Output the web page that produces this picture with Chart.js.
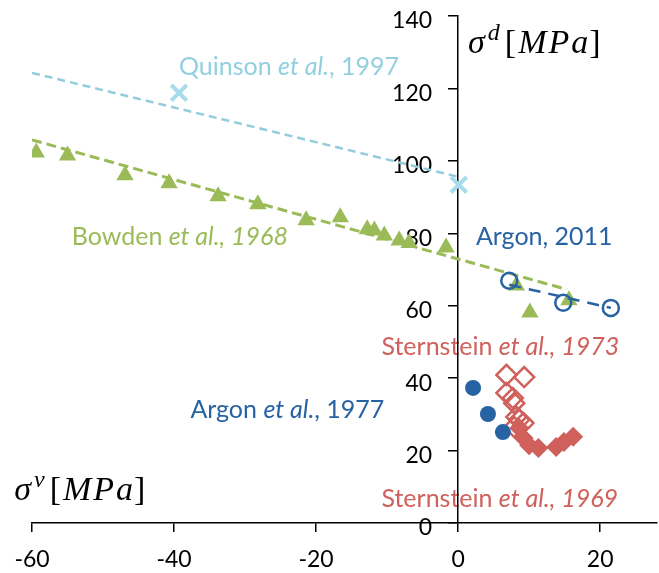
<!DOCTYPE html>
<html>
<head>
<meta charset="utf-8">
<script src="https://cdn.jsdelivr.net/npm/chart.js@4/dist/chart.umd.min.js"></script>
<style>
  html, body { margin:0; padding:0; background:#fff; overflow:hidden; }
  #wrap { position:relative; width:659px; height:573px; }
  #chart { display:block; }
</style>
</head>
<body>
<div id="wrap"><canvas id="chart"></canvas></div>
<script>
// ---- DATA ----
const xTicks = [-60, -40, -20, 0, 20];
const yTicks = [0, 20, 40, 60, 80, 100, 120, 140];

// Bowden et al., 1968 (triangles) + trend line
const bowdenX = [-59.4, -55.0, -46.9, -40.7, -33.8, -28.2, -21.4, -16.6, -12.8, -11.8, -10.4, -8.3, -6.9, -1.7, 8.2, 10.1, 15.6];
const bowdenY = [102.3, 101.5, 96.0, 93.8, 90.2, 88.0, 83.6, 84.4, 81.1, 80.8, 79.4, 78.0, 77.3, 76.1, 65.6, 58.1, 61.5];
const bowdenTrendX = [-60, 15.3];
const bowdenTrendY = [105.8, 64.5];

// Quinson et al., 1997 (crosses) + trend line
const quinsonX = [-39.3, 0.1];
const quinsonY = [118.8, 93.4];
const quinsonTrendX = [-60, 0];
const quinsonTrendY = [124.3, 95.6];

// Argon, 2011 (open circles) + trend line
const argon2011X = [7.2, 14.8, 21.5];
const argon2011Y = [66.9, 60.8, 59.4];
const argon2011TrendX = [7.2, 21.5];
const argon2011TrendY = [65.8, 59.4];

// Argon et al., 1977 (filled circles)
const argon1977X = [2.1, 4.2, 6.3];
const argon1977Y = [37.3, 30.1, 25.1];

// Sternstein et al., 1973 (open diamonds)
const stern1973X = [6.8, 9.3, 6.8, 7.7, 7.9, 8.2, 8.6, 9.2, 7.9];
const stern1973Y = [40.9, 40.3, 35.9, 34.5, 33.1, 29.3, 28.5, 27.6, 26.5];

// Sternstein et al., 1969 (filled diamonds)
const stern1969X = [8.6, 9.2, 10.0, 11.3, 13.8, 14.9, 16.2];
const stern1969Y = [26.2, 23.5, 21.5, 20.7, 21.0, 22.4, 23.8];

// ---- COLORS ----
const GREEN = '#9BBB59';
const LIGHTBLUE = '#93CDDD';
const DARKBLUE = '#2762A3';
const RED = '#D0605B';

const pts = (xs, ys) => xs.map((x, i) => ({x: x, y: ys[i]}));

// ---- TEXT ----
const SANS = 'Lato, "Open Sans", sans-serif';
const SERIF = '"Liberation Serif", "DejaVu Serif", serif';

const notes = [
  {x:-39.3, y:123.8, color:'#92CFE0', parts:[['Quinson ',0],['et al.',1],[', 1997',0]]},
  {x:-54.4, y:76.8,  color:GREEN,     parts:[['Bowden ',0],['et al., 1968',1]]},
  {x:2.5,   y:76.8,  color:DARKBLUE,  parts:[['Argon, 2011',0]]},
  {x:-10.8, y:46.4,  color:RED,       parts:[['Sternstein ',0],['et al., 1973',1]]},
  {x:-37.7, y:29.0,  color:DARKBLUE,  parts:[['Argon ',0],['et al.',1],[', 1977',0]]},
  {x:-10.8, y:4.4,   color:RED,       parts:[['Sternstein ',0],['et al., 1969',1]]}
];

function drawMath(ctx, x, y, sup) {
  const size = 34;
  const it = 'italic ' + size + 'px ' + SERIF;
  const up = size + 'px ' + SERIF;
  const pieces = [
    ['\u03C3', it, 0, 3],
    [sup, 'italic ' + Math.round(size*0.7) + 'px ' + SERIF, -13, 5],
    ['[', up, 0, 2],
    ['M', it, 0, 2],
    ['P', it, 0, 2],
    ['a', it, 0, 1],
    [']', up, 0, 0]
  ];
  ctx.fillStyle = '#000';
  ctx.textBaseline = 'alphabetic';
  ctx.textAlign = 'left';
  let cx = x;
  pieces.forEach(p => {
    ctx.font = p[1];
    ctx.fillText(p[0], cx, y + p[2]);
    cx += ctx.measureText(p[0]).width + p[3];
  });
}

// annotation texts, drawn under the axes
const notesPlugin = {
  id: 'notes',
  beforeDraw(chart) {
    const ctx = chart.ctx;
    const xs = chart.scales.x, ys = chart.scales.y;
    ctx.save();
    ctx.textBaseline = 'alphabetic';
    ctx.textAlign = 'left';
    notes.forEach(n => {
      let cx = xs.getPixelForValue(n.x);
      const cy = ys.getPixelForValue(n.y);
      ctx.fillStyle = n.color;
      n.parts.forEach(p => {
        ctx.font = (p[1] ? 'italic ' : '') + '25px ' + SANS;
        ctx.fillText(p[0], cx, cy);
        cx += ctx.measureText(p[0]).width;
      });
    });
    drawMath(ctx, xs.getPixelForValue(1.4), ys.getPixelForValue(129.8), 'd');
    drawMath(ctx, xs.getPixelForValue(-62.5), ys.getPixelForValue(6.4), 'v');
    ctx.restore();
  }
};

// y tick labels next to the centred axis
const yLabelsPlugin = {
  id: 'yLabels',
  beforeDatasetsDraw(chart) {
    const ctx = chart.ctx;
    const xs = chart.scales.x, ys = chart.scales.y;
    const ax = xs.getPixelForValue(0);
    ctx.save();
    ctx.fillStyle = '#000';
    ctx.font = '23px ' + SANS;
    ctx.textAlign = 'right';
    ctx.textBaseline = 'middle';
    ys.ticks.forEach(t => {
      ctx.fillText(String(t.value), ax - 26, ys.getPixelForValue(t.value) + 5);
    });
    ctx.restore();
  }
};

// keep the layout padding in charge of the plot area
const noPad = s => { s.paddingLeft = 0; s.paddingRight = 0; s.paddingTop = 0; s.paddingBottom = 0; };

// ---- CHART ----
const trend = (xs, ys, color, dash, width) => ({
  type: 'line',
  data: pts(xs, ys),
  borderColor: color,
  borderWidth: width,
  borderDash: dash,
  pointRadius: 0,
  fill: false,
  showLine: true
});

const ctx = document.getElementById('chart').getContext('2d');
new Chart(ctx, {
  type: 'scatter',
  data: {
    datasets: [
      { data: pts(argon2011X, argon2011Y), pointStyle:'circle', pointRadius:8, borderWidth:2.5,
        borderColor:DARKBLUE, backgroundColor:'rgba(0,0,0,0)' },
      trend(argon2011TrendX, argon2011TrendY, DARKBLUE, [12, 8], 2.5),
      { data: pts(argon1977X, argon1977Y), pointStyle:'circle', pointRadius:8, borderWidth:0,
        borderColor:DARKBLUE, backgroundColor:DARKBLUE },
      { data: pts(stern1969X, stern1969Y), pointStyle:'rectRot', pointRadius:10, borderWidth:0,
        borderColor:RED, backgroundColor:RED },
      { data: pts(stern1973X, stern1973Y), pointStyle:'rectRot', pointRadius:10, borderWidth:2.5,
        borderColor:RED, backgroundColor:'rgba(0,0,0,0)' },
      { data: pts(quinsonX, quinsonY), pointStyle:'crossRot', pointRadius:11, borderWidth:4,
        borderColor:'#A6DCEB', backgroundColor:'#A6DCEB' },
      trend(quinsonTrendX, quinsonTrendY, LIGHTBLUE, [8, 5], 2.5),
      { data: pts(bowdenX, bowdenY), pointStyle:'triangle', pointRadius:10, borderWidth:0,
        borderColor:GREEN, backgroundColor:GREEN },
      trend(bowdenTrendX, bowdenTrendY, GREEN, [10, 5], 3)
    ]
  },
  options: {
    responsive: true,
    maintainAspectRatio: false,
    animation: false,
    events: [],
    layout: { autoPadding: false, padding: { left: 32, right: 2, top: 16, bottom: -14 } },
    plugins: { legend: { display: false }, tooltip: { enabled: false } },
    scales: {
      x: {
        type: 'linear', position: 'bottom', min: -60, max: 28,
        afterBuildTicks: s => { s.ticks = xTicks.map(v => ({value: v})); },
        afterFit: noPad,
        grid: { drawOnChartArea: false, drawTicks: true, tickLength: 9, color: '#000', lineWidth: 1.5 },
        border: { display: true, color: '#000', width: 1.5 },
        ticks: { color: '#000', padding: 16, font: { family: SANS, size: 23, lineHeight: 1 } }
      },
      y: {
        type: 'linear', position: { x: 0 }, min: 0, max: 140,
        afterBuildTicks: s => { s.ticks = yTicks.map(v => ({value: v})); },
        afterFit: noPad,
        grid: { drawOnChartArea: false, drawTicks: true, tickLength: 9, color: '#000', lineWidth: 1.5 },
        border: { display: true, color: '#000', width: 1.5 },
        ticks: { display: false }
      }
    }
  },
  plugins: [notesPlugin, yLabelsPlugin]
});
</script>
</body>
</html>
